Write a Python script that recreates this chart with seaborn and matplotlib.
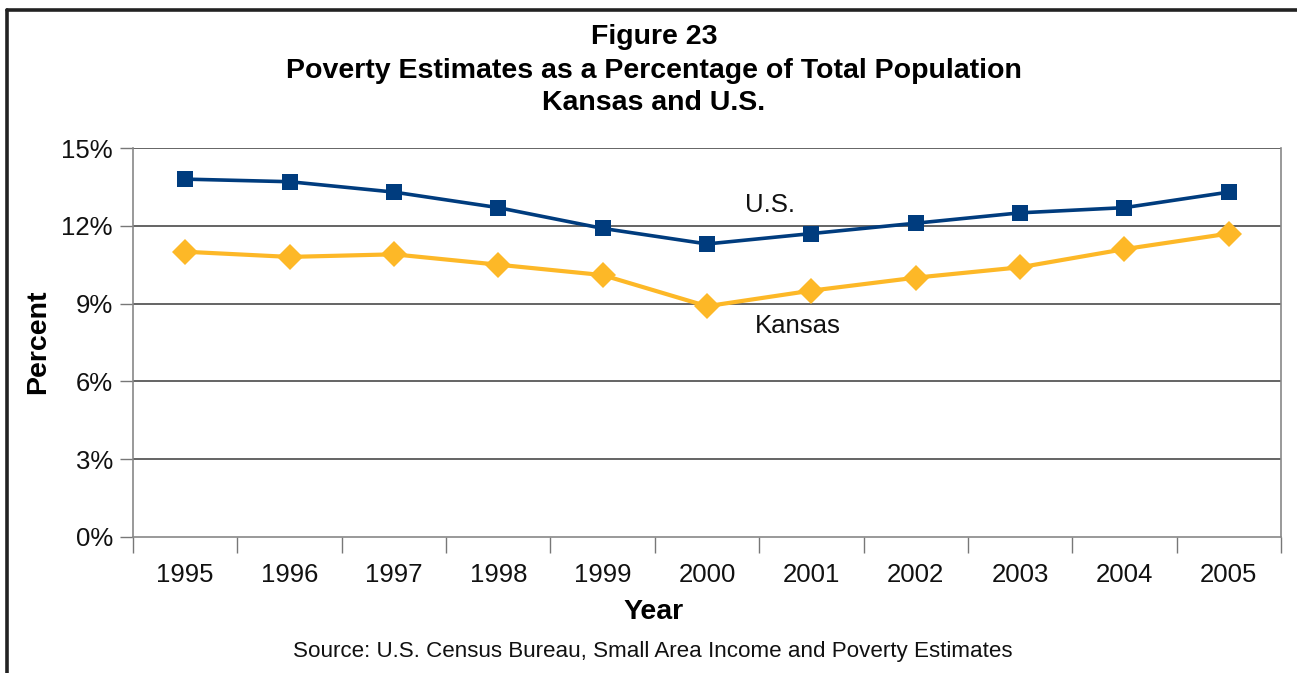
import matplotlib
matplotlib.use("Agg")
import matplotlib.pyplot as plt
from matplotlib.lines import Line2D
from matplotlib.ticker import FixedLocator, FuncFormatter
import seaborn as sns
import pandas as pd

years = ["1995", "1996", "1997", "1998", "1999", "2000",
         "2001", "2002", "2003", "2004", "2005"]
us_pct = [13.8, 13.7, 13.3, 12.7, 11.9, 11.3, 11.7, 12.1, 12.5, 12.7, 13.3]
kansas_pct = [11.0, 10.8, 10.9, 10.5, 10.1, 8.9, 9.5, 10.0, 10.4, 11.1, 11.7]
y_ticks = [0, 3, 6, 9, 12, 15]

US_COLOR = "#003C7E"
KS_COLOR = "#FDB827"

sns.set_theme(style="white")
plt.rcParams["font.family"] = ["Liberation Sans", "DejaVu Sans"]

df = pd.DataFrame({
    "pos": list(range(len(years))) * 2,
    "pct": us_pct + kansas_pct,
    "series": ["U.S."] * len(years) + ["Kansas"] * len(years),
})

W, H = 1297, 673
fig = plt.figure(figsize=(W / 100, H / 100), dpi=100)
ax = fig.add_axes([133 / W, 1 - 537 / H, (1281 - 133) / W, (537 - 148) / H])

# horizontal gridlines
for v in y_ticks[1:]:
    ax.axhline(v, color="#3a3a3a", lw=1.1, zorder=1)

sns.lineplot(data=df[df.series == "U.S."], x="pos", y="pct", ax=ax,
             color=US_COLOR, lw=2.6, marker="s", markersize=11.2,
             markeredgewidth=0, zorder=3, legend=False)
sns.lineplot(data=df[df.series == "Kansas"], x="pos", y="pct", ax=ax,
             color=KS_COLOR, lw=3.0, marker="D", markersize=13.5,
             markeredgewidth=0, zorder=3, legend=False)

ax.set_xlim(-0.5, len(years) - 0.5)
ax.set_ylim(0, 15)

# category labels centred, tick marks at the boundaries
ax.xaxis.set_major_locator(FixedLocator(range(len(years))))
ax.set_xticklabels(years)
ax.xaxis.set_minor_locator(FixedLocator([i - 0.5 for i in range(len(years) + 1)]))
ax.tick_params(axis="x", which="major", length=0, pad=19, labelsize=18.5,
               labelcolor="#111111")
ax.tick_params(axis="x", which="minor", bottom=True, length=11.5, width=1.0,
               color="#777777", direction="out")

ax.set_yticks(y_ticks)
ax.yaxis.set_major_formatter(FuncFormatter(lambda v, _: f"{v:.0f}%"))
ax.tick_params(axis="y", which="major", left=True, length=9.5, width=1.0,
               color="#777777", direction="out", pad=5, labelsize=18.5,
               labelcolor="#111111")

for side in ["left", "bottom", "right"]:
    ax.spines[side].set_visible(True)
    ax.spines[side].set_color("#888888")
    ax.spines[side].set_linewidth(1.2)
ax.spines["top"].set_visible(False)
ax.set_xlabel("")
ax.set_ylabel("")

# series labels
ax.text(5.6, 12.8, "U.S.", fontsize=18.5, ha="center", va="center", color="#111111")
ax.text(5.87, 8.15, "Kansas", fontsize=18.5, ha="center", va="center", color="#111111")

# axis titles
fig.text(654 / W, 1 - 612 / H, "Year", ha="center", va="center",
         fontsize=20.5, fontweight="bold", color="#000000")
fig.text(38 / W, 1 - 342 / H, "Percent", ha="center", va="center", rotation=90,
         fontsize=20.5, fontweight="bold", color="#000000")

# title block
fig.text(654 / W, 1 - 37 / H, "Figure 23", ha="center", va="center",
         fontsize=20.5, fontweight="bold", color="#000000")
fig.text(654 / W, 1 - 71 / H, "Poverty Estimates as a Percentage of Total Population",
         ha="center", va="center", fontsize=20.5, fontweight="bold", color="#000000")
fig.text(654 / W, 1 - 103 / H, "Kansas and U.S.", ha="center", va="center",
         fontsize=20.5, fontweight="bold", color="#000000")

fig.text(653 / W, 1 - 652 / H,
         "Source: U.S. Census Bureau, Small Area Income and Poverty Estimates",
         ha="center", va="center", fontsize=16.1, color="#111111")

# outer frame (top and left edges)
fig.add_artist(Line2D([7 / W, 1.0], [1 - 10 / H, 1 - 10 / H], transform=fig.transFigure,
                      color="#222222", lw=2.6))
fig.add_artist(Line2D([7 / W, 7 / W], [1 - 10 / H, 0.0], transform=fig.transFigure,
                      color="#222222", lw=2.6))

fig.savefig("out.png", dpi=100)
